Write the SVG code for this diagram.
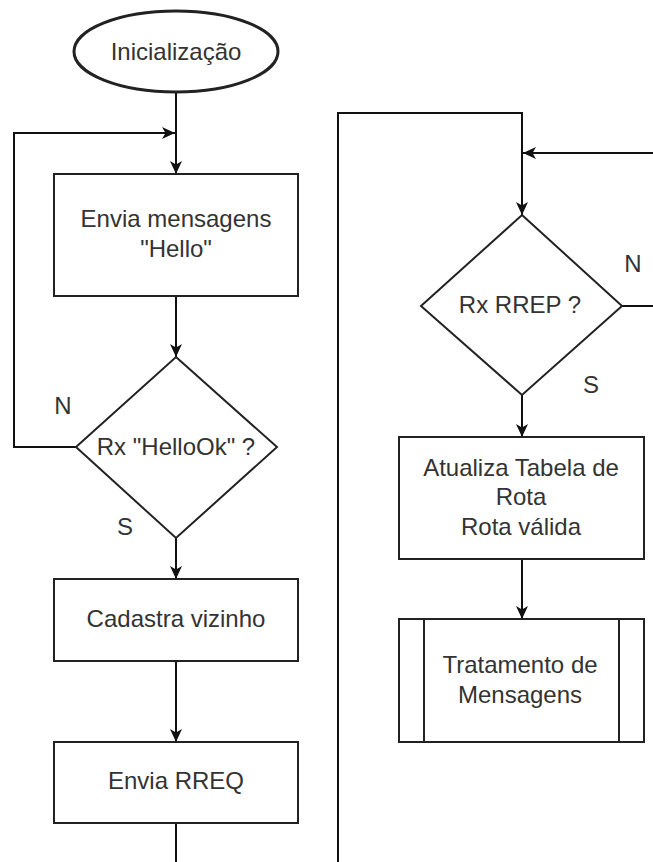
<svg xmlns="http://www.w3.org/2000/svg" width="653" height="862" viewBox="0 0 653 862">
<style>
.shape{fill:#fff;stroke:#222;stroke-width:2}
.conn{fill:none;stroke:#111;stroke-width:2}
text{font-family:"Liberation Sans",Arial,sans-serif;font-size:24px;fill:#333;text-anchor:middle}
</style>
<defs>
<marker id="arr" markerUnits="userSpaceOnUse" markerWidth="16" markerHeight="14" refX="13" refY="6" orient="auto">
<path d="M0,0 L13,6 L0,12 L3.5,6 z" fill="#111"/>
</marker>
</defs>
<rect width="653" height="862" fill="#fff"/>
<g id="connectors">
<line class="conn" x1="176" y1="93" x2="176" y2="174" marker-end="url(#arr)"/>
<polyline class="conn" points="76,447 14,447 14,133 175,133" marker-end="url(#arr)"/>
<line class="conn" x1="176" y1="296" x2="176" y2="357" marker-end="url(#arr)"/>
<line class="conn" x1="176" y1="538" x2="176" y2="579" marker-end="url(#arr)"/>
<line class="conn" x1="176" y1="661" x2="176" y2="742" marker-end="url(#arr)"/>
<line class="conn" x1="176" y1="823" x2="176" y2="862"/>
<polyline class="conn" points="338,862 338,113 522,113 522,215" marker-end="url(#arr)"/>
<line class="conn" x1="653" y1="153" x2="523" y2="153" marker-end="url(#arr)"/>
<line class="conn" x1="622" y1="306" x2="653" y2="306"/>
<line class="conn" x1="522" y1="395" x2="522" y2="437" marker-end="url(#arr)"/>
<line class="conn" x1="522" y1="559" x2="522" y2="619" marker-end="url(#arr)"/>
<text x="63" y="414">N</text>
<text x="125" y="535">S</text>
<text x="633" y="272">N</text>
<text x="591" y="393">S</text>
</g>
<g id="inicio">
<ellipse class="shape" cx="176" cy="51.5" rx="102" ry="40.5" style="stroke-width:3"/>
<text x="176" y="60">Inicialização</text>
</g>
<g id="envia-hello">
<rect class="shape" x="54" y="174" width="244" height="122"/>
<text x="176" y="227">Envia mensagens</text>
<text x="176" y="257">"Hello"</text>
</g>
<g id="rx-hellook">
<polygon class="shape" points="176,357 277,447 176,538 76,447"/>
<text x="176" y="455">Rx "HelloOk" ?</text>
</g>
<g id="cadastra">
<rect class="shape" x="54" y="579" width="244" height="82"/>
<text x="176" y="627">Cadastra vizinho</text>
</g>
<g id="envia-rreq">
<rect class="shape" x="54" y="742" width="244" height="81"/>
<text x="176" y="789">Envia RREQ</text>
</g>
<g id="rx-rrep">
<polygon class="shape" points="522,215 622,306 522,395 421,306"/>
<text x="520" y="313">Rx RREP ?</text>
</g>
<g id="atualiza">
<rect class="shape" x="399" y="437" width="245" height="122"/>
<text x="521" y="476">Atualiza Tabela de</text>
<text x="521" y="505">Rota</text>
<text x="521" y="535">Rota válida</text>
</g>
<g id="tratamento">
<rect class="shape" x="399" y="619" width="245" height="123"/>
<line class="shape" x1="424" y1="619" x2="424" y2="742"/>
<line class="shape" x1="619" y1="619" x2="619" y2="742"/>
<text x="520" y="673">Tratamento de</text>
<text x="520" y="703">Mensagens</text>
</g>
</svg>
